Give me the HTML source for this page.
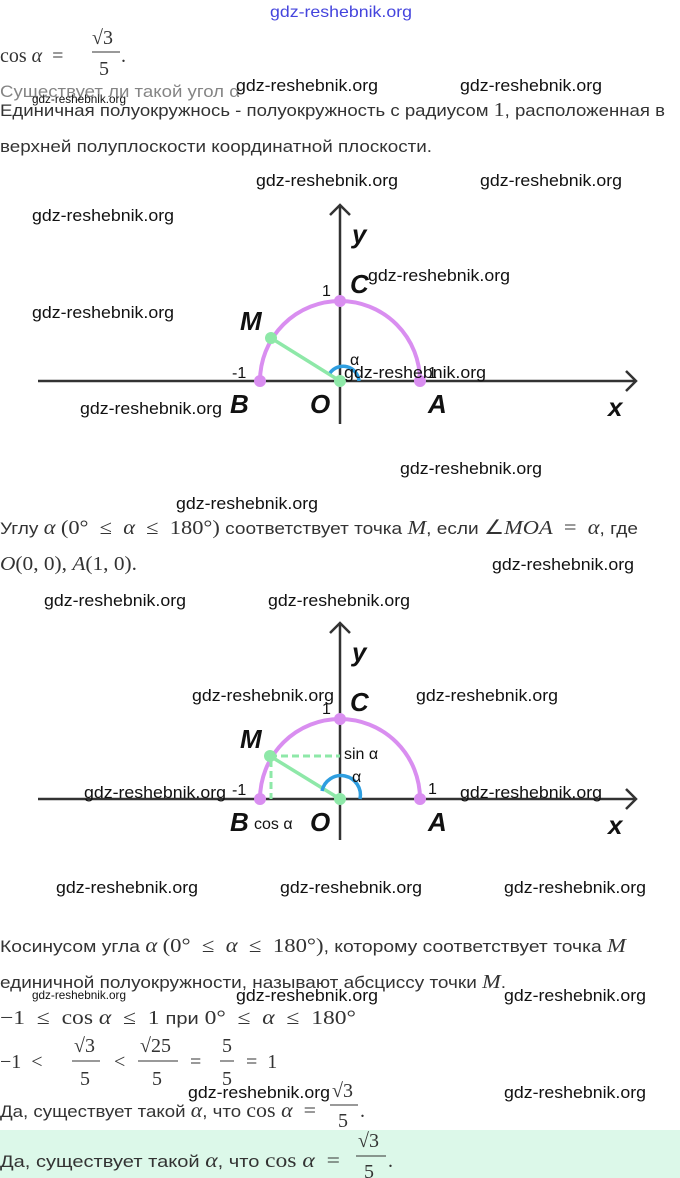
<!DOCTYPE html>
<html><head><meta charset="utf-8"><style>
body{margin:0;background:#fff;width:680px;height:1178px;overflow:hidden}
svg{display:block}
text{white-space:pre}
.t{font-family:"Liberation Sans","DejaVu Sans",sans-serif;font-size:17px;fill:#333}
.m{font-family:"Liberation Serif",serif;font-size:20px;fill:#333}
.mi{font-family:"Liberation Serif",serif;font-size:20px;fill:#333;font-style:italic}
.w{font-family:"Liberation Sans",sans-serif;font-size:17px;fill:#111}
.ws{font-family:"Liberation Sans",sans-serif;font-size:12px;fill:#111}
.L{font-family:"Liberation Sans",sans-serif;font-size:26px;font-style:italic;font-weight:bold;fill:#111}
.n{font-family:"Liberation Sans",sans-serif;font-size:16px;fill:#111}
</style></head><body>
<svg width="680" height="1178" viewBox="0 0 680 1178">
<rect x="0" y="1130" width="680" height="48" fill="#dcf8e9"/>
<text x="270" y="17" textLength="142" lengthAdjust="spacingAndGlyphs" style="font-family:'Liberation Sans',sans-serif;font-size:16px;fill:#4444dd">gdz-reshebnik.org</text>
<!-- top -->
<text x="0" y="62" class="m">cos <tspan class="mi">α</tspan>  =</text>
<text x="92" y="44" class="m">√3</text><line x1="92" y1="52" x2="120" y2="52" stroke="#333"/>
<text x="99" y="75" class="m">5</text><text x="121" y="62" class="m">.</text>
<text x="0" y="97" class="t" opacity="0.6" textLength="240" lengthAdjust="spacingAndGlyphs">Существует ли такой угол α</text>
<text x="0" y="116" class="t" textLength="665" lengthAdjust="spacingAndGlyphs">Единичная полуокружнось - полуокружность с радиусом <tspan class="m">1</tspan>, расположенная в</text>
<text x="0" y="152" class="t" textLength="432" lengthAdjust="spacingAndGlyphs">верхней полуплоскости координатной плоскости.</text>
<g class="w" textLength="142">
<text x="236" y="91" class="w" textLength="142" lengthAdjust="spacingAndGlyphs">gdz-reshebnik.org</text><text x="460" y="91" class="w" textLength="142" lengthAdjust="spacingAndGlyphs">gdz-reshebnik.org</text>
</g>
<text x="32" y="103" class="ws" textLength="94" lengthAdjust="spacingAndGlyphs">gdz-reshebnik.org</text>
<!-- diagram 1 -->
<g stroke="#333" stroke-width="2.5" fill="none">
<line x1="38" y1="381" x2="636" y2="381"/><polyline points="626,371 636,381 626,391"/>
<line x1="340" y1="424" x2="340" y2="205"/><polyline points="330,215 340,205 350,215"/>
</g>
<path d="M260 381 A80 80 0 0 1 420 381" stroke="#d98ef0" stroke-width="4" fill="none"/>
<line x1="271" y1="338" x2="340" y2="381" stroke="#8ee8a8" stroke-width="3.5"/>
<path d="M330 373 A16 16 0 0 1 359 381" stroke="#2e9ee0" stroke-width="3.5" fill="none"/>
<g fill="#d98ef0"><circle cx="260" cy="381" r="6"/><circle cx="420" cy="381" r="6"/><circle cx="340" cy="301" r="6"/></g>
<g fill="#8ee8a8"><circle cx="271" cy="338" r="6"/><circle cx="340" cy="381" r="6"/></g>
<text x="352" y="243" class="L">y</text><text x="350" y="293" class="L">C</text><text x="322" y="296" class="n">1</text>
<text x="240" y="330" class="L">M</text><text x="350" y="365" class="n">α</text>
<text x="232" y="378" class="n">-1</text><text x="428" y="378" class="n">1</text>
<text x="230" y="413" class="L">B</text><text x="310" y="413" class="L">O</text><text x="428" y="413" class="L">A</text><text x="608" y="416" class="L">x</text>
<g>
<text x="256" y="186" class="w" textLength="142" lengthAdjust="spacingAndGlyphs">gdz-reshebnik.org</text><text x="480" y="186" class="w" textLength="142" lengthAdjust="spacingAndGlyphs">gdz-reshebnik.org</text>
<text x="32" y="221" class="w" textLength="142" lengthAdjust="spacingAndGlyphs">gdz-reshebnik.org</text><text x="368" y="281" class="w" textLength="142" lengthAdjust="spacingAndGlyphs">gdz-reshebnik.org</text>
<text x="32" y="318" class="w" textLength="142" lengthAdjust="spacingAndGlyphs">gdz-reshebnik.org</text><text x="344" y="378" class="w" textLength="142" lengthAdjust="spacingAndGlyphs">gdz-reshebnik.org</text>
<text x="80" y="414" class="w" textLength="142" lengthAdjust="spacingAndGlyphs">gdz-reshebnik.org</text><text x="400" y="474" class="w" textLength="142" lengthAdjust="spacingAndGlyphs">gdz-reshebnik.org</text>
<text x="176" y="509" class="w" textLength="142" lengthAdjust="spacingAndGlyphs">gdz-reshebnik.org</text>
</g>
<text x="0" y="534" class="t" textLength="638" lengthAdjust="spacingAndGlyphs">Углу <tspan class="mi">α</tspan> <tspan class="m">(0°  ≤  <tspan font-style="italic">α</tspan>  ≤  180°)</tspan> соответствует точка <tspan class="mi">M</tspan>, если <tspan class="m">∠<tspan font-style="italic">MOA</tspan>  =  <tspan font-style="italic">α</tspan></tspan>, где</text>
<text x="0" y="570" class="m" textLength="137" lengthAdjust="spacingAndGlyphs"><tspan font-style="italic">O</tspan>(0, 0), <tspan font-style="italic">A</tspan>(1, 0).</text>
<text x="492" y="570" class="w" textLength="142" lengthAdjust="spacingAndGlyphs">gdz-reshebnik.org</text>
<text x="44" y="606" class="w" textLength="142" lengthAdjust="spacingAndGlyphs">gdz-reshebnik.org</text><text x="268" y="606" class="w" textLength="142" lengthAdjust="spacingAndGlyphs">gdz-reshebnik.org</text>
<!-- diagram 2 -->
<g stroke="#333" stroke-width="2.5" fill="none">
<line x1="38" y1="799" x2="636" y2="799"/><polyline points="626,789 636,799 626,809"/>
<line x1="340" y1="840" x2="340" y2="623"/><polyline points="330,633 340,623 350,633"/>
</g>
<path d="M260 799 A80 80 0 0 1 420 799" stroke="#d98ef0" stroke-width="4" fill="none"/>
<g stroke="#8ee8a8" stroke-width="3" stroke-dasharray="7,4" fill="none"><line x1="270" y1="756" x2="340" y2="756"/><line x1="271" y1="760" x2="271" y2="799"/></g>
<line x1="270" y1="756" x2="340" y2="799" stroke="#8ee8a8" stroke-width="3.5"/>
<path d="M322 791 A18 18 0 0 1 360 799" stroke="#2e9ee0" stroke-width="3.5" fill="none"/>
<g fill="#d98ef0"><circle cx="260" cy="799" r="6"/><circle cx="420" cy="799" r="6"/><circle cx="340" cy="719" r="6"/></g>
<g fill="#8ee8a8"><circle cx="270" cy="756" r="6"/><circle cx="340" cy="799" r="6"/></g>
<text x="352" y="661" class="L">y</text><text x="350" y="711" class="L">C</text><text x="322" y="714" class="n">1</text>
<text x="240" y="748" class="L">M</text><text x="344" y="759" class="n" font-size="18">sin α</text><text x="352" y="782" class="n">α</text>
<text x="232" y="795" class="n">-1</text><text x="428" y="794" class="n">1</text>
<text x="230" y="831" class="L">B</text><text x="254" y="829" class="n" font-size="18">cos α</text><text x="310" y="831" class="L">O</text><text x="428" y="831" class="L">A</text><text x="608" y="834" class="L">x</text>
<text x="192" y="701" class="w" textLength="142" lengthAdjust="spacingAndGlyphs">gdz-reshebnik.org</text><text x="416" y="701" class="w" textLength="142" lengthAdjust="spacingAndGlyphs">gdz-reshebnik.org</text>
<text x="84" y="798" class="w" textLength="142" lengthAdjust="spacingAndGlyphs">gdz-reshebnik.org</text><text x="460" y="798" class="w" textLength="142" lengthAdjust="spacingAndGlyphs">gdz-reshebnik.org</text>
<text x="56" y="893" class="w" textLength="142" lengthAdjust="spacingAndGlyphs">gdz-reshebnik.org</text><text x="280" y="893" class="w" textLength="142" lengthAdjust="spacingAndGlyphs">gdz-reshebnik.org</text><text x="504" y="893" class="w" textLength="142" lengthAdjust="spacingAndGlyphs">gdz-reshebnik.org</text>
<!-- bottom -->
<text x="0" y="952" class="t" textLength="626" lengthAdjust="spacingAndGlyphs">Косинусом угла <tspan class="mi">α</tspan> <tspan class="m">(0°  ≤  <tspan font-style="italic">α</tspan>  ≤  180°)</tspan>, которому соответствует точка <tspan class="mi">M</tspan></text>
<text x="0" y="988" class="t" textLength="506" lengthAdjust="spacingAndGlyphs">единичной полуокружности, называют абсциссу точки <tspan class="mi">M</tspan>.</text>
<text x="32" y="999" class="ws" textLength="94" lengthAdjust="spacingAndGlyphs">gdz-reshebnik.org</text><text x="236" y="1001" class="w" textLength="142" lengthAdjust="spacingAndGlyphs">gdz-reshebnik.org</text><text x="504" y="1001" class="w" textLength="142" lengthAdjust="spacingAndGlyphs">gdz-reshebnik.org</text>
<text x="0" y="1024" class="m" textLength="356" lengthAdjust="spacingAndGlyphs">−1  ≤  cos <tspan font-style="italic">α</tspan>  ≤  1 <tspan class="t">при</tspan> 0°  ≤  <tspan font-style="italic">α</tspan>  ≤  180°</text>
<text x="0" y="1068" class="m">−1  &lt;</text>
<text x="74" y="1052" class="m">√3</text><line x1="72" y1="1061" x2="100" y2="1061" stroke="#333"/><text x="80" y="1085" class="m">5</text>
<text x="114" y="1068" class="m">&lt;</text>
<text x="140" y="1052" class="m">√25</text><line x1="138" y1="1061" x2="178" y2="1061" stroke="#333"/><text x="152" y="1085" class="m">5</text>
<text x="190" y="1068" class="m">=</text>
<text x="222" y="1052" class="m">5</text><line x1="220" y1="1061" x2="234" y2="1061" stroke="#333"/><text x="222" y="1085" class="m">5</text>
<text x="246" y="1068" class="m">=  1</text>
<text x="188" y="1098" class="w" textLength="142" lengthAdjust="spacingAndGlyphs">gdz-reshebnik.org</text><text x="504" y="1098" class="w" textLength="142" lengthAdjust="spacingAndGlyphs">gdz-reshebnik.org</text>
<text x="0" y="1117" class="t" textLength="316" lengthAdjust="spacingAndGlyphs">Да, существует такой <tspan class="mi">α</tspan>, что <tspan class="m">cos <tspan font-style="italic">α</tspan>  =</tspan></text>
<text x="332" y="1097" class="m">√3</text><line x1="330" y1="1105" x2="358" y2="1105" stroke="#333"/><text x="338" y="1127" class="m">5</text><text x="360" y="1117" class="m">.</text>
<text x="0" y="1167" class="t" textLength="340" lengthAdjust="spacingAndGlyphs">Да, существует такой <tspan class="mi">α</tspan>, что <tspan class="m">cos <tspan font-style="italic">α</tspan>  =</tspan></text>
<text x="358" y="1147" class="m">√3</text><line x1="356" y1="1156" x2="386" y2="1156" stroke="#333"/><text x="364" y="1178" class="m">5</text><text x="388" y="1167" class="m">.</text>
</svg>
</body></html>
